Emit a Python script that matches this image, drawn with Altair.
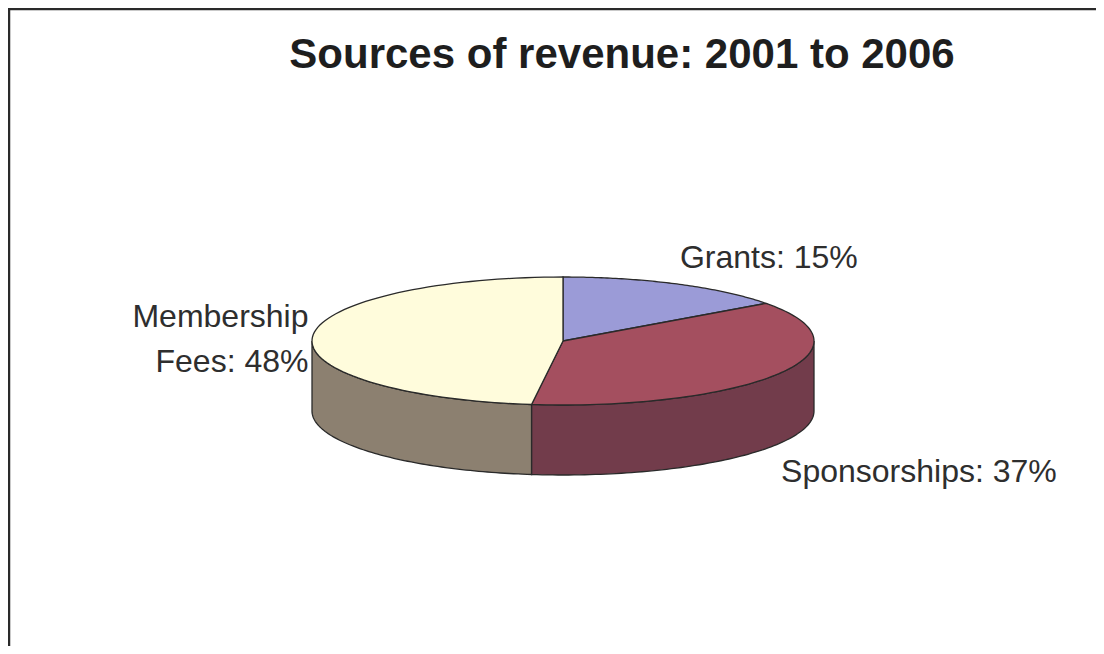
import altair as alt
import pandas as pd

# ---- data ----
title_text = "Sources of revenue: 2001 to 2006"
categories = ["Grants", "Sponsorships", "Membership Fees"]
values = [15, 37, 48]
top_colors = ["#9b9bd7", "#a44f5f", "#fffcdc"]
side_colors = ["#6b6b9c", "#723c4b", "#8c8070"]

df = pd.DataFrame({"category": categories, "value": values})

# ---- layout / style constants ----
W, H = 1088, 638
CX, CY, A, B, D = 563, 341, 251, 64, 70   # pie centre, radii and depth (page pixels)
N = 80
FONT = "Liberation Sans"

xs = alt.Scale(domain=[8, 8 + W], nice=False, zero=False)
ys = alt.Scale(domain=[8, 8 + H], nice=False, zero=False, reverse=True)

base = (
    alt.Chart(df)
    .transform_window(row="row_number()")
    .transform_joinaggregate(total="sum(value)")
    .transform_window(cum="sum(value)", sort=[alt.SortField("row")], frame=[None, 0])
    .transform_calculate(
        t0="2*PI*(datum.cum - datum.value)/datum.total",
        t1="2*PI*datum.cum/datum.total",
    )
)

# side walls (only the front half is visible)
sides = (
    base.transform_calculate(
        s="max(datum.t0, PI/2)", e="min(datum.t1, 3*PI/2)"
    )
    .transform_filter("datum.e > datum.s")
    .transform_calculate(k=f"sequence(0, {2 * N + 2})")
    .transform_flatten(["k"])
    .transform_calculate(
        t=f"datum.k <= {N} ? datum.s + (datum.e - datum.s) * datum.k / {N}"
          f" : datum.s + (datum.e - datum.s) * ({2 * N + 1} - datum.k) / {N}"
    )
    .transform_calculate(
        px=f"{CX} + {A} * sin(datum.t)",
        py=f"{CY} - {B} * cos(datum.t) + (datum.k <= {N} ? 0 : {D})",
    )
    .mark_line(interpolate="linear-closed", stroke="#2a2a2a", strokeWidth=1.3)
    .encode(
        x=alt.X("px:Q", scale=xs, axis=None),
        y=alt.Y("py:Q", scale=ys, axis=None),
        fill=alt.Fill("category:N", scale=alt.Scale(domain=categories, range=side_colors), legend=None),
        detail="category:N",
        order="k:Q",
    )
)

# top faces
tops = (
    base.transform_calculate(k=f"sequence(0, {N + 2})")
    .transform_flatten(["k"])
    .transform_calculate(t=f"datum.t0 + (datum.t1 - datum.t0) * (datum.k - 1) / {N}")
    .transform_calculate(
        px=f"datum.k == 0 ? {CX} : {CX} + {A} * sin(datum.t)",
        py=f"datum.k == 0 ? {CY} : {CY} - {B} * cos(datum.t)",
    )
    .mark_line(interpolate="linear-closed", stroke="#2a2a2a", strokeWidth=1.3)
    .encode(
        x=alt.X("px:Q", scale=xs, axis=None),
        y=alt.Y("py:Q", scale=ys, axis=None),
        fill=alt.Fill("category:N", scale=alt.Scale(domain=categories, range=top_colors), legend=None),
        detail="category:N",
        order="k:Q",
    )
)

lab_base = base.transform_calculate(
    mid="(datum.t0 + datum.t1)/2",
    label="replace(datum.category, ' ', '\\n') + ': ' + datum.value + '%'",
).transform_calculate(
    lx=f"{CX} + {A} * sin(datum.mid)",
    ly=f"{CY} - {B} * cos(datum.mid)",
)

def label_layer(cat, align, dx, dy):
    return (
        lab_base.transform_filter(alt.datum.category == cat)
        .mark_text(
            align=align, baseline="alphabetic", dx=dx, dy=dy,
            font=FONT, fontSize=32, color="#2e2e2e",
            lineBreak="\n", lineHeight=45,
        )
        .encode(
            x=alt.X("lx:Q", scale=xs, axis=None),
            y=alt.Y("ly:Q", scale=ys, axis=None),
            text="label:N",
        )
    )

labels = [
    label_layer("Grants", "left", 3, -16),
    label_layer("Sponsorships", "left", 2, 108),
    label_layer("Membership Fees", "right", -4, -10),
]

title = (
    alt.Chart(pd.DataFrame({"t": [title_text]}))
    .mark_text(font=FONT, fontSize=42, fontWeight="bold", color="#1e1e1e",
               align="center", baseline="alphabetic")
    .encode(x=alt.value(614), y=alt.value(60), text="t:N")
)

border_df = pd.DataFrame({"b": [0]})
border_left = alt.Chart(border_df).mark_rule(color="#2a2a2a", strokeWidth=2.5).encode(
    x=alt.value(1), y=alt.value(0), y2=alt.value(H)
)
border_top = alt.Chart(border_df).mark_rule(color="#2a2a2a", strokeWidth=2.5).encode(
    x=alt.value(0), x2=alt.value(W), y=alt.value(1)
)

chart = (
    alt.layer(border_left, border_top, sides, tops, *labels, title)
    .resolve_scale(fill="independent")
    .properties(width=W, height=H, autosize="none", padding=0, background="white")
    .configure_view(stroke=None)
)

chart.save("out.html", embed_options={"renderer": "svg", "actions": False})
